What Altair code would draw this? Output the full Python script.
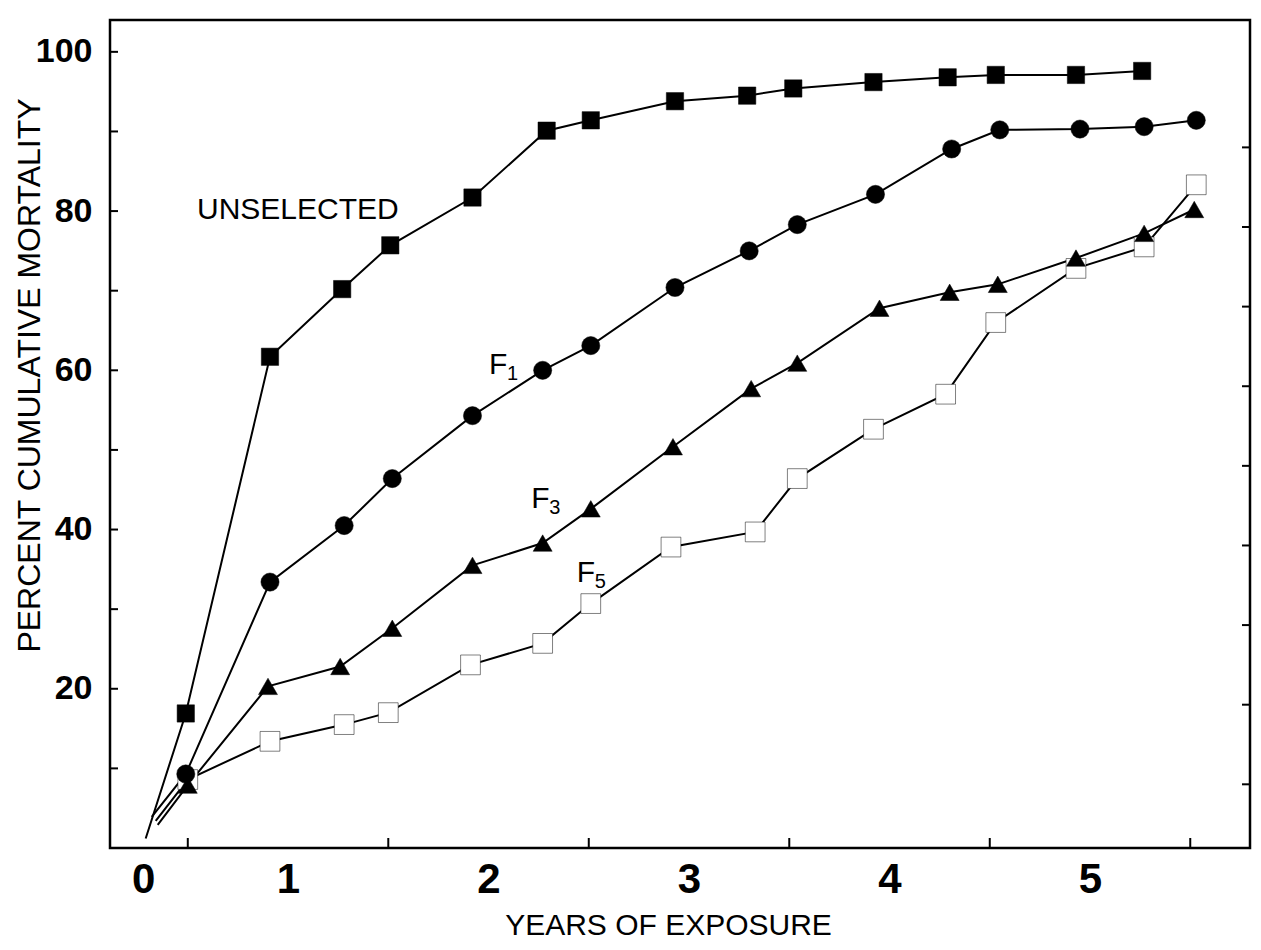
import altair as alt
import pandas as pd

# ---- data ----
series_names = ["UNSELECTED", "F1", "F3", "F5"]

unsel_x = [0.49, 0.91, 1.27, 1.51, 1.92, 2.29, 2.51, 2.93, 3.29, 3.52, 3.92, 4.29, 4.53, 4.93, 5.26]
unsel_y = [16.9, 61.7, 70.2, 75.7, 81.7, 90.1, 91.4, 93.8, 94.5, 95.4, 96.2, 96.8, 97.1, 97.1, 97.6]

f1_x = [0.49, 0.91, 1.28, 1.52, 1.92, 2.27, 2.51, 2.93, 3.30, 3.54, 3.93, 4.31, 4.55, 4.95, 5.27, 5.53]
f1_y = [9.3, 33.4, 40.5, 46.4, 54.3, 60.0, 63.1, 70.4, 75.0, 78.3, 82.1, 87.8, 90.2, 90.3, 90.6, 91.4]

f3_x = [0.50, 0.90, 1.26, 1.52, 1.92, 2.27, 2.51, 2.92, 3.31, 3.54, 3.95, 4.30, 4.54, 4.93, 5.27, 5.52]
f3_y = [7.9, 20.3, 22.8, 27.6, 35.5, 38.3, 42.6, 50.4, 57.7, 60.9, 67.8, 69.8, 70.8, 74.1, 77.2, 80.2]

f5_x = [0.50, 0.91, 1.28, 1.50, 1.91, 2.27, 2.51, 2.91, 3.33, 3.54, 3.92, 4.28, 4.53, 4.93, 5.27, 5.53]
f5_y = [8.6, 13.4, 15.5, 17.0, 23.0, 25.7, 30.7, 37.8, 39.7, 46.4, 52.6, 57.0, 66.0, 72.8, 75.5, 83.3]

# where each curve starts (line only, no marker)
start_x = [0.29, 0.32, 0.35, 0.34]
start_y = [1.2, 3.9, 2.9, 3.4]

# axis ticks / labels
x_tick_values = [0.277, 1, 2, 3, 4, 5]
x_tick_labels = ["0", "1", "2", "3", "4", "5"]
x_minor_ticks = [0.5, 1.5, 2.5, 3.5, 4.5, 5.5]
y_tick_values = [20, 40, 60, 80, 100]
y_left_ticks = [10, 20, 30, 40, 50, 60, 70, 80, 90, 100]
y_right_ticks = [8, 18, 28, 38, 48, 58, 68, 78, 88]

# curve annotations
label_text = ["UNSELECTED", "F", "F", "F"]
label_sub = ["", "1", "3", "5"]
label_x = [0.546, 2.002, 2.213, 2.44]
label_y = [79.0, 59.5, 42.7, 33.4]

# ---- build tables (all layers use the same field names: year / pct) ----
xs = {"UNSELECTED": unsel_x, "F1": f1_x, "F3": f3_x, "F5": f5_x}
ys = {"UNSELECTED": unsel_y, "F1": f1_y, "F3": f3_y, "F5": f5_y}

line_rows = []
point_rows = []
for i, s in enumerate(series_names):
    line_rows.append({"series": s, "year": start_x[i], "pct": start_y[i], "ord": 0})
    for j, (a, b) in enumerate(zip(xs[s], ys[s])):
        line_rows.append({"series": s, "year": a, "pct": b, "ord": j + 1})
# draw open squares first so filled markers sit on top
for s in ["F5", "F3", "UNSELECTED", "F1"]:
    for a, b in zip(xs[s], ys[s]):
        point_rows.append({"series": s, "year": a, "pct": b})

lines_df = pd.DataFrame(line_rows)
points_df = pd.DataFrame(point_rows)
labels_df = pd.DataFrame({"text": label_text, "sub": label_sub, "year": label_x, "pct": label_y})

W, H = 1140, 828
xscale = alt.Scale(domain=[0.112, 5.798], nice=False, zero=False)
yscale = alt.Scale(domain=[0, 104], nice=False, zero=False)

label_expr = "".join(
    f"abs(datum.value - {v}) < 0.01 ? '{l}' : " for v, l in zip(x_tick_values, x_tick_labels)
) + "''"

FONT = "Liberation Sans"

x_axis = alt.Axis(
    values=x_tick_values, labelExpr=label_expr, ticks=False, tickSize=0, domain=False,
    grid=False, labelFont=FONT, labelFontSize=42, labelFontWeight="bold", labelColor="black",
    labelPadding=11, labelFlush=False, labelOverlap=False,
    title="YEARS OF EXPOSURE", titleFont=FONT, titleFontSize=30, titleFontWeight="normal",
    titleColor="black", titleX=558, titleY=86, titleAlign="center", titleBaseline="alphabetic",
)
y_axis = alt.Axis(
    values=y_tick_values, ticks=False, tickSize=0, domain=False, grid=False,
    labelFont=FONT, labelFontSize=34, labelFontWeight="bold", labelColor="black",
    labelPadding=18, labelFlush=False, labelOverlap=False,
    title="PERCENT CUMULATIVE MORTALITY", titleFont=FONT, titleFontSize=32,
    titleFontWeight="normal", titleColor="black", titleAngle=270,
    titleX=-71, titleY=355, titleAlign="center", titleBaseline="alphabetic",
)

X = alt.X("year:Q", scale=xscale, axis=x_axis, title="YEARS OF EXPOSURE")
Y = alt.Y("pct:Q", scale=yscale, axis=y_axis, title="PERCENT CUMULATIVE MORTALITY")

lines = alt.Chart(lines_df).mark_line(color="black", strokeWidth=2).encode(
    x=X, y=Y, detail="series:N", order="ord:Q",
)

points = alt.Chart(points_df).mark_point(filled=True, stroke="black", opacity=1).encode(
    x=X, y=Y,
    shape=alt.Shape("series:N", scale=alt.Scale(domain=series_names,
                    range=["square", "circle", "triangle-up", "square"]), legend=None),
    fill=alt.Fill("series:N", scale=alt.Scale(domain=series_names,
                  range=["black", "black", "black", "white"]), legend=None),
    size=alt.Size("series:N", scale=alt.Scale(domain=series_names,
                  range=[300, 390, 450, 200]), legend=None),
    strokeWidth=alt.StrokeWidth("series:N", scale=alt.Scale(domain=series_names,
                                range=[0.5, 0.5, 0.5, 2.5]), legend=None),
)

left_ticks = alt.Chart(pd.DataFrame({"pct": y_left_ticks})).mark_rule(color="black", strokeWidth=2).encode(
    y=Y, x=alt.value(0), x2=alt.value(8)
)
right_ticks = alt.Chart(pd.DataFrame({"pct": y_right_ticks})).mark_rule(color="black", strokeWidth=2).encode(
    y=Y, x=alt.value(W), x2=alt.value(W - 8)
)
bottom_ticks = alt.Chart(pd.DataFrame({"year": x_minor_ticks})).mark_rule(color="black", strokeWidth=2).encode(
    x=X, y=alt.value(H), y2=alt.value(H - 10)
)

labels = alt.Chart(labels_df).mark_text(
    align="left", baseline="alphabetic", font=FONT, fontSize=30, color="black"
).encode(x=X, y=Y, text="text:N")

subs = alt.Chart(labels_df).transform_filter("datum.sub != ''").mark_text(
    align="left", baseline="alphabetic", font=FONT, fontSize=20, color="black", dx=18, dy=6
).encode(x=X, y=Y, text="sub:N")

chart = alt.layer(lines, points, left_ticks, right_ticks, bottom_ticks, labels, subs).properties(
    width=W, height=H,
    padding={"left": 102, "top": 12, "right": 2, "bottom": 94},
    autosize=alt.AutoSizeParams(type="none"),
    background="white",
).configure_view(stroke="black", strokeWidth=2.5)

chart.save("out.html", embed_options={"renderer": "svg", "actions": False})
